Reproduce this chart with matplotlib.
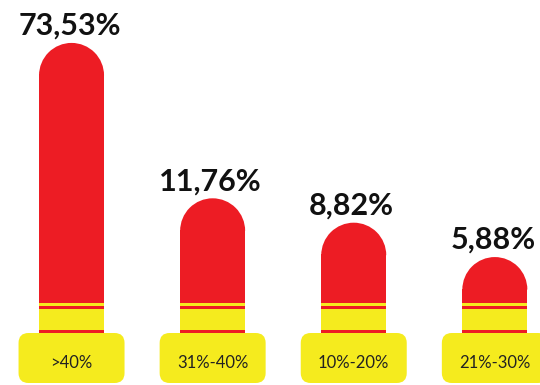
import matplotlib
matplotlib.use('Agg')
import matplotlib.pyplot as plt
from matplotlib.patches import Rectangle, Wedge, FancyBboxPatch

# share of responses per range
categories = ['>40%', '31%-40%', '10%-20%', '21%-30%']
values = [73.53, 11.76, 8.82, 5.88]
value_labels = ['73,53%', '11,76%', '8,82%', '5,88%']

RED = '#ED1C24'
YELLOW = '#F5EB1E'

W, H = 540, 385
fig = plt.figure(figsize=(W / 100, H / 100), dpi=100)

# value axes: bar heights come from a log scale
ax_val = fig.add_axes([0, 0, 1, 1])
ax_val.set_yscale('log')
ax_val.set_xlim(-0.507, 3.32)
ax_val.set_ylim(1.3, 122)
ax_val.axis('off')

# drawing axes in pixel units, y pointing down
ax = fig.add_axes([0, 0, 1, 1])
ax.set_xlim(0, W)
ax.set_ylim(H, 0)
ax.axis('off')

to_px = ax_val.transData + ax.transData.inverted()

bar_w = 65
r = bar_w / 2
base = 333          # top of the label boxes
box_w, box_h, box_r = 106, 50, 10

for i, (cat, v, lab) in enumerate(zip(categories, values, value_labels)):
    cx, top = to_px.transform((i, v))

    # red column with rounded cap (rect overlaps the cap to hide the seam)
    ax.add_patch(Rectangle((cx - r, top + r - 1), bar_w, base - top - r + 1,
                           facecolor=RED, edgecolor='none'))
    ax.add_patch(Wedge((cx, top + r), r, 180, 360,
                       facecolor=RED, edgecolor='none'))

    # yellow stripes at the foot
    ax.add_patch(Rectangle((cx - r, 303), bar_w, 2.5,
                           facecolor=YELLOW, edgecolor='none'))
    ax.add_patch(Rectangle((cx - r, 308.5), bar_w, 21,
                           facecolor=YELLOW, edgecolor='none'))

    # label box
    ax.add_patch(FancyBboxPatch((cx - box_w / 2 + box_r, base + box_r),
                                box_w - 2 * box_r, box_h - 2 * box_r,
                                boxstyle=f'round,pad={box_r}',
                                facecolor=YELLOW, edgecolor='none'))
    ax.text(cx, 362.5, cat, ha='center', va='center', fontsize=12,
            color='#222222', family='Lato')

    ax.text(cx - 2, top - 8, lab, ha='center', va='baseline',
            fontsize=22, fontweight='bold', color='#111111', family='Lato')

fig.savefig('out.png', dpi=100)
